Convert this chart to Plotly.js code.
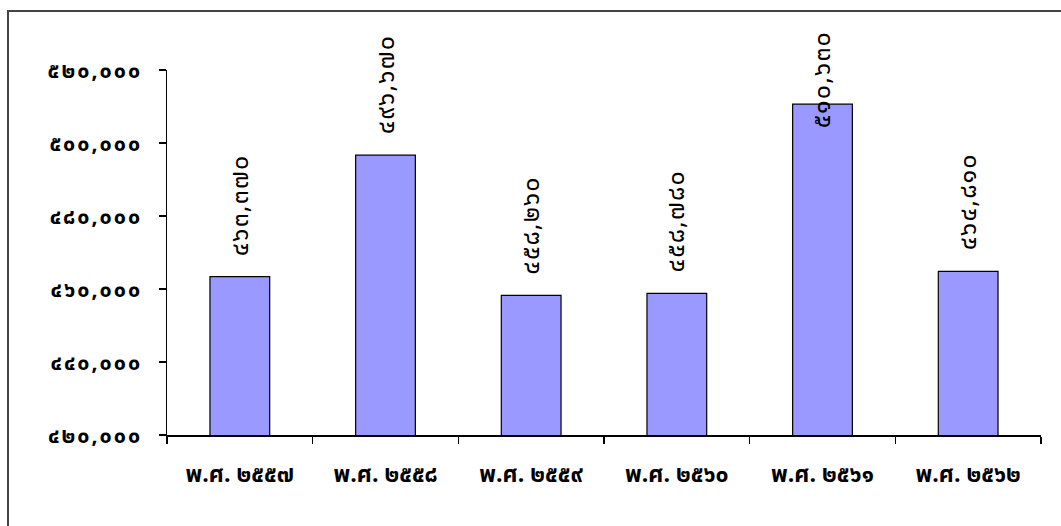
<!DOCTYPE html>
<html>
<head>
<meta charset="utf-8">
<script src="https://cdn.plot.ly/plotly-3.0.1.min.js"></script>
<style>
html,body{margin:0;padding:0;background:#fff;overflow:hidden;}
#chart{width:1061px;height:526px;}
#frame{position:absolute;left:7px;top:10px;width:1200px;height:700px;border:2px solid #444;pointer-events:none;box-sizing:border-box;}
#chart .annotation-text{letter-spacing:1.2px;}
#chart .ytick text{letter-spacing:2px;}
</style>
</head>
<body>
<div id="chart"></div>
<div id="frame"></div>
<script>
const categories = ["พ.ศ. ๒๕๕๗","พ.ศ. ๒๕๕๘","พ.ศ. ๒๕๕๙","พ.ศ. ๒๕๖๐","พ.ศ. ๒๕๖๑","พ.ศ. ๒๕๖๒"];
const values = [463370, 496670, 458260, 458780, 510630, 464810];
const valueLabels = ["๔๖๓,๓๗๐","๔๙๖,๖๗๐","๔๕๘,๒๖๐","๔๕๘,๗๘๐","๕๑๐,๖๓๐","๔๖๔,๘๑๐"];
const yTickVals = [420000, 440000, 460000, 480000, 500000, 520000];
const yTickText = ["๔๒๐,๐๐๐","๔๔๐,๐๐๐","๔๖๐,๐๐๐","๔๘๐,๐๐๐","๕๐๐,๐๐๐","๕๒๐,๐๐๐"];

const FONT = "Tahoma, 'Noto Sans Thai', 'Loma', 'Garuda', 'DejaVu Sans', sans-serif";
const yMin = 420000, yMax = 520000;
const plotTop = 70, plotBottom = 435;
const pxPerUnit = (plotBottom - plotTop) / (yMax - yMin);
const labelLen = 96, gap = 23, chartTop = 30;

const annotations = values.map((v, i) => {
  const barTopPx = plotBottom - (v - yMin) * pxPerUnit;
  let shift = gap;
  if (barTopPx - gap - labelLen < chartTop) {
    shift = barTopPx - chartTop - labelLen;
  }
  return {
    x: categories[i], y: v, xref: 'x', yref: 'y',
    text: valueLabels[i], showarrow: false, textangle: -90,
    yanchor: 'bottom', xanchor: 'center', yshift: shift,
    font: {family: FONT, size: 25, color: '#000'}
  };
});

const trace = {
  type: 'bar', x: categories, y: values,
  marker: {color: '#9999ff', line: {color: '#000', width: 1.2}},
  hoverinfo: 'none'
};

const layout = {
  width: 1061, height: 526,
  margin: {l: 167, r: 20, t: 70, b: 91},
  paper_bgcolor: '#fff', plot_bgcolor: '#fff',
  bargap: 0.59,
  showlegend: false,
  font: {family: FONT, color: '#000'},
  xaxis: {
    type: 'category', showline: true, linecolor: '#000', linewidth: 1.5,
    ticks: 'outside', tickson: 'boundaries', ticklen: 7, tickcolor: '#000', tickwidth: 1.5,
    tickfont: {family: FONT, size: 23, color: '#000', weight: 'bold'},
    ticklabelstandoff: 18,
    showgrid: false, zeroline: false, fixedrange: true
  },
  yaxis: {
    range: [yMin, yMax], tickvals: yTickVals, ticktext: yTickText,
    showline: true, linecolor: '#000', linewidth: 1.5,
    ticks: 'outside', ticklen: 7, tickcolor: '#000', tickwidth: 1.5,
    tickfont: {family: FONT, size: 21.5, color: '#000', weight: 'bold'},
    ticklabelstandoff: 12,
    showgrid: false, zeroline: false, fixedrange: true
  },
  annotations: annotations
};

Plotly.newPlot('chart', [trace], layout, {staticPlot: true, displayModeBar: false});
</script>
</body>
</html>
